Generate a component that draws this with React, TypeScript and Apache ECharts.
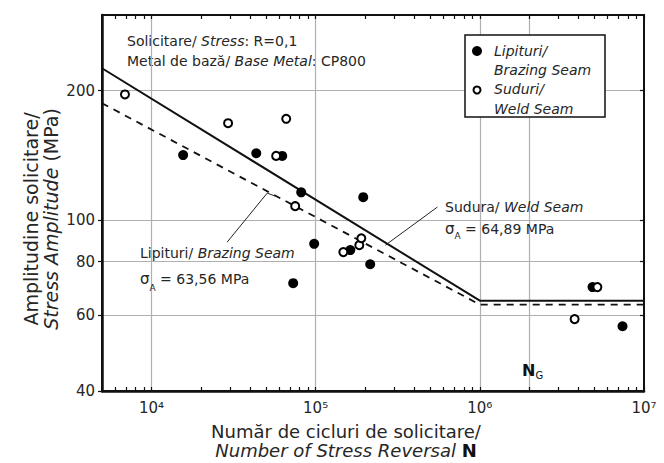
import React, { useEffect, useRef } from 'react';
import * as echarts from 'echarts';

// ---- axis ranges & ticks ----
const xRange = [5000, 1e7];
const yRange = [40, 300];
const xLabelValues = [1e4, 1e5, 1e6, 1e7];
const xTickValues = [
  6e3, 7e3, 8e3, 9e3, 1e4, 2e4, 3e4, 4e4, 5e4, 6e4, 7e4, 8e4, 9e4,
  1e5, 2e5, 3e5, 4e5, 5e5, 6e5, 7e5, 8e5, 9e5,
  1e6, 2e6, 3e6, 4e6, 5e6, 6e6, 7e6, 8e6, 9e6, 1e7,
];
const xGridValues = [1e4, 1e5, 1e6, 2e6];
const yLabelValues = [40, 60, 80, 100, 200];
const yGridValues = [60, 80, 100, 200];

// ---- measured points ----
const brazingN = [15600, 43500, 62600, 81700, 195000, 98000, 73000, 215000, 162600, 4.86e6, 7.4e6];
const brazingS = [141.6, 143, 141, 116, 113, 88, 71.3, 78.9, 85.1, 69.8, 56.6];
const weldN = [6900, 29300, 66200, 57500, 75100, 147500, 184500, 189800, 3.78e6, 5.2e6];
const weldS = [196, 168, 172, 141, 107.7, 84.2, 87.4, 90.7, 58.8, 69.8];

// ---- S-N curves ----
const weldLineN = [5000, 1e6, 1e7];
const weldLineS = [225.5, 64.89, 64.89];
const brazingLineN = [5000, 1e6, 1e7];
const brazingLineS = [187, 63.56, 63.56];

// ---- annotation leaders ----
const weldLeaderN = [266000, 552000];
const weldLeaderS = [87.4, 107.2];
const brazingLeaderN = [28900, 50700, 56700];
const brazingLeaderS = [88.8, 115.5, 113.7];

const sup: Record<number, string> = { 3: '³', 4: '⁴', 5: '⁵', 6: '⁶', 7: '⁷' };
const FONT = 'DejaVu Sans';
const TXT = '#262626';

const zip = (a: number[], b: number[]) => a.map((v, i) => [v, b[i]]);

export default function App() {
  const ref = useRef<HTMLDivElement>(null);
  useEffect(() => {
    if (!ref.current) return;
    const chart = echarts.init(ref.current, null, { renderer: 'svg' });
    const baseX = {
      type: 'log' as const,
      logBase: 10,
      min: xRange[0],
      max: xRange[1],
      splitLine: { show: false },
      minorTick: { show: false },
    };
    const baseY = {
      type: 'log' as const,
      logBase: 10,
      min: yRange[0],
      max: yRange[1],
      splitLine: { show: false },
      minorTick: { show: false },
    };
    const option: any = {
      animation: false,
      backgroundColor: '#fff',
      textStyle: { fontFamily: FONT },
      grid: {
        left: 102, top: 15, right: 20, bottom: 72, containLabel: false, outerBoundsMode: 'none',
        show: true, borderColor: '#111', borderWidth: 2, backgroundColor: 'transparent',
      },
      xAxis: [
        {
          ...baseX,
          position: 'bottom',
          axisLine: { show: true, onZero: false, lineStyle: { color: '#111', width: 2.5 } },
          axisTick: { show: true, inside: true, length: 4, customValues: xTickValues, lineStyle: { color: '#111', width: 1.2 } },
          axisLabel: {
            show: true,
            customValues: xLabelValues,
            margin: 9,
            color: TXT,
            fontFamily: FONT,
            fontSize: 15,
            formatter: (v: number) => '10' + sup[Math.round(Math.log10(v))],
          },
        },
        {
          ...baseX,
          position: 'top',
          axisLine: { show: true, onZero: false, lineStyle: { color: '#111', width: 2 } },
          axisTick: { show: true, inside: true, length: 4, customValues: xTickValues, lineStyle: { color: '#111', width: 1.2 } },
          axisLabel: { show: false },
        },
      ],
      yAxis: [
        {
          ...baseY,
          position: 'left',
          axisLine: { show: true, onZero: false, lineStyle: { color: '#111', width: 2.5 } },
          axisTick: { show: true, inside: false, length: 4, customValues: yLabelValues, lineStyle: { color: '#111', width: 1.2 } },
          axisLabel: {
            show: true,
            customValues: yLabelValues,
            margin: 7,
            color: TXT,
            fontFamily: FONT,
            fontSize: 15,
          },
        },
        {
          ...baseY,
          position: 'right',
          axisLine: { show: true, onZero: false, lineStyle: { color: '#111', width: 2 } },
          axisTick: { show: true, inside: true, length: 4, customValues: yLabelValues, lineStyle: { color: '#111', width: 1.2 } },
          axisLabel: { show: false },
        },
      ],
      series: [
        {
          name: 'grid',
          type: 'line',
          data: [],
          silent: true,
          z: 0,
          markLine: {
            silent: true,
            z: 0,
            symbol: 'none',
            animation: false,
            label: { show: false },
            lineStyle: { color: '#b0b0b0', width: 1.2, type: 'solid' },
            emphasis: { disabled: true },
            data: [
              ...xGridValues.map((v) => ({ xAxis: v })),
              ...yGridValues.map((v) => ({ yAxis: v })),
            ],
          },
        },
        {
          name: 'Sudura/ Weld Seam curve',
          type: 'line',
          data: zip(weldLineN, weldLineS),
          symbol: 'none',
          silent: true,
          z: 3,
          lineStyle: { color: '#111', width: 2 },
        },
        {
          name: 'Lipituri/ Brazing Seam curve',
          type: 'line',
          data: zip(brazingLineN, brazingLineS),
          symbol: 'none',
          silent: true,
          z: 3,
          lineStyle: { color: '#111', width: 1.8, type: [7, 6] },
        },
        {
          name: 'weld leader',
          type: 'line',
          data: zip(weldLeaderN, weldLeaderS),
          symbol: 'none',
          silent: true,
          z: 3,
          lineStyle: { color: '#222', width: 1 },
        },
        {
          name: 'brazing leader',
          type: 'line',
          data: zip(brazingLeaderN, brazingLeaderS),
          symbol: 'none',
          silent: true,
          z: 3,
          lineStyle: { color: '#222', width: 1 },
        },
        {
          name: 'Lipituri/ Brazing Seam',
          type: 'scatter',
          data: zip(brazingN, brazingS),
          symbol: 'circle',
          symbolSize: 10,
          z: 5,
          itemStyle: { color: '#000', opacity: 1 },
        },
        {
          name: 'Suduri/ Weld Seam',
          type: 'scatter',
          data: zip(weldN, weldS),
          symbol: 'circle',
          symbolSize: 8,
          z: 6,
          itemStyle: { color: '#fff', borderColor: '#000', borderWidth: 2, opacity: 1 },
        },
      ],
      graphic: [
        // top-left note
        {
          type: 'text',
          left: 127,
          top: 34,
          style: {
            text: '{r|Solicitare/ }{i|Stress}{r|: R=0,1}\n{r|Metal de bază/ }{i|Base Metal}{r|: CP800}',
            rich: {
              r: { fontFamily: FONT, fontSize: 14, lineHeight: 20, fill: TXT },
              i: { fontFamily: FONT, fontSize: 14, lineHeight: 20, fill: TXT, fontStyle: 'italic' },
            },
          },
        },
        // legend
        {
          type: 'rect',
          shape: { x: 465, y: 35, width: 140, height: 82 },
          style: { fill: '#fff', stroke: '#111', lineWidth: 1.5 },
          z: 10,
        },
        { type: 'circle', shape: { cx: 477, cy: 51, r: 5 }, style: { fill: '#000' }, z: 11 },
        { type: 'circle', shape: { cx: 477, cy: 90, r: 3.5 }, style: { fill: '#fff', stroke: '#000', lineWidth: 2 }, z: 11 },
        {
          type: 'text',
          x: 494,
          y: 41,
          z: 11,
          style: {
            text: 'Lipituri/\nBrazing Seam\nSuduri/\nWeld Seam',
            fontFamily: FONT,
            fontSize: 14,
            fontStyle: 'italic',
            lineHeight: 19.3,
            fill: TXT,
          },
        },
        // weld annotation
        {
          type: 'text',
          x: 445,
          y: 196,
          z: 11,
          style: {
            text: '{r|Sudura/ }{i|Weld Seam}\n{s|σ}{sub|A}{r| = 64,89 MPa}',
            rich: {
              r: { fontFamily: FONT, fontSize: 14, lineHeight: 22, fill: TXT },
              i: { fontFamily: FONT, fontSize: 14, lineHeight: 22, fill: TXT, fontStyle: 'italic' },
              s: { fontFamily: FONT, fontSize: 15, lineHeight: 22, fill: TXT },
              sub: { fontFamily: FONT, fontSize: 9, lineHeight: 12, fill: TXT, verticalAlign: 'bottom' },
            },
          },
        },
        // brazing annotation
        {
          type: 'text',
          x: 140,
          y: 240,
          z: 11,
          style: {
            text: '{r|Lipituri/ }{i|Brazing Seam}\n{s|σ}{sub|A}{r| = 63,56 MPa}',
            rich: {
              r: { fontFamily: FONT, fontSize: 14, lineHeight: 26, fill: TXT },
              i: { fontFamily: FONT, fontSize: 14, lineHeight: 26, fill: TXT, fontStyle: 'italic' },
              s: { fontFamily: FONT, fontSize: 15, lineHeight: 26, fill: TXT },
              sub: { fontFamily: FONT, fontSize: 9, lineHeight: 12, fill: TXT, verticalAlign: 'bottom' },
            },
          },
        },
        // N_G
        {
          type: 'text',
          x: 522,
          y: 360,
          z: 11,
          style: {
            text: '{n|N}{g|G}',
            rich: {
              n: { fontFamily: FONT, fontSize: 16, fontWeight: 'bold', lineHeight: 20, fill: '#111' },
              g: { fontFamily: FONT, fontSize: 10, lineHeight: 12, fill: '#111', verticalAlign: 'bottom' },
            },
          },
        },
        // x-axis title
        {
          type: 'text',
          x: 346,
          y: 441,
          style: {
            text: '{r|Număr de cicluri de solicitare/}\n{i|Number of Stress Reversal }{b|N}',
            align: 'center',
            verticalAlign: 'middle',
            rich: {
              r: { fontFamily: FONT, fontSize: 18, lineHeight: 19, fill: TXT },
              i: { fontFamily: FONT, fontSize: 18, lineHeight: 19, fill: TXT, fontStyle: 'italic' },
              b: { fontFamily: FONT, fontSize: 18, lineHeight: 19, fill: '#111', fontWeight: 'bold' },
            },
          },
        },
        // y-axis title
        {
          type: 'text',
          x: 41,
          y: 219,
          rotation: Math.PI / 2,
          style: {
            text: '{r|Amplitudine solicitare/}\n{i|Stress Amplitude}{r| (MPa)}',
            align: 'center',
            verticalAlign: 'middle',
            rich: {
              r: { fontFamily: FONT, fontSize: 19, lineHeight: 20, fill: TXT },
              i: { fontFamily: FONT, fontSize: 19, lineHeight: 20, fill: TXT, fontStyle: 'italic' },
            },
          },
        },
      ],
    };
    chart.setOption(option);
    return () => chart.dispose();
  }, []);
  return <div ref={ref} style={{ width: 664, height: 463, position: 'absolute', left: 0, top: 0 }} />;
}
